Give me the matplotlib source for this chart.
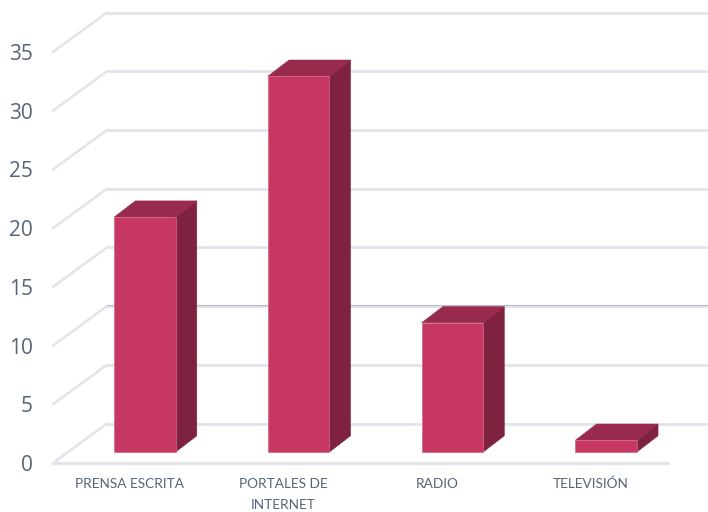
import matplotlib
matplotlib.use('Agg')
import matplotlib.pyplot as plt
from matplotlib.patches import Polygon

categories = ['PRENSA ESCRITA', 'PORTALES DE\nINTERNET', 'RADIO', 'TELEVISIÓN']
values = [20, 32, 11, 1]
y_ticks = [0, 5, 10, 15, 20, 25, 30, 35]

# fake 3d depth, in axis units
depth_x = 0.351
depth_y = 3.36
bar_width = 0.4
bar_start = 0.28
bar_depth = 0.39

grid_color = '#e2e4ea'
text_color = '#566479'

fig = plt.figure(figsize=(7.08, 5.12), dpi=100)
ax = fig.add_axes([53 / 708, 49 / 512, 615 / 708, 411 / 512])
ax.set_xlim(-0.5, 3.5)
ax.set_ylim(0, 35)
for s in ax.spines.values():
    s.set_visible(False)

# walls and floor
for v in y_ticks:
    ax.plot([-0.5, -0.5 + depth_x], [v, v + depth_y], color=grid_color, lw=1.8,
            clip_on=False, zorder=1, solid_capstyle='round')
    ax.plot([-0.5 + depth_x, 3.5 + depth_x], [v + depth_y, v + depth_y], color=grid_color, lw=2,
            clip_on=False, zorder=1)
ax.plot([-0.5 + depth_x, 3.5 + depth_x], [10 + depth_y + 0.08, 10 + depth_y + 0.08], color='#b9bac8', lw=0.8,
        clip_on=False, zorder=1)
ax.plot([-0.5, 3.5], [0, 0], color=grid_color, lw=2.4, clip_on=False, zorder=2, solid_capstyle='round')

# bars
for i, v in enumerate(values):
    x0 = i - bar_width / 2 + bar_start * depth_x
    x1 = x0 + bar_width
    y0 = bar_start * depth_y
    y1 = y0 + v
    dx = bar_depth * depth_x
    dy = 0.41 * depth_y
    ax.add_patch(Polygon([(x1, y0), (x1 + dx, y0 + dy), (x1 + dx, y1 + dy), (x1, y1)], closed=True,
                         facecolor='#7e223f', edgecolor='#7e223f', lw=0.4, clip_on=False, zorder=3))
    ax.add_patch(Polygon([(x0, y1), (x1, y1), (x1 + dx, y1 + dy), (x0 + dx, y1 + dy)], closed=True,
                         facecolor='#982a4e', edgecolor='#982a4e', lw=0.4, clip_on=False, zorder=3))
    ax.add_patch(Polygon([(x0, y0), (x1, y0), (x1, y1), (x0, y1)], closed=True,
                         facecolor='#c63862', edgecolor='#d0668a', lw=0.5, clip_on=False, zorder=4))

ax.set_yticks(y_ticks)
ax.set_yticklabels([str(t) for t in y_ticks], fontfamily='Open Sans', fontsize=15, color=text_color)
ax.set_xticks(range(len(categories)))
ax.set_xticklabels(categories, fontfamily='Lato', fontsize=9.8, color=text_color, linespacing=1.9)
ax.tick_params(axis='y', length=0, pad=14.5)
ax.tick_params(axis='x', length=0, pad=10.5)

fig.savefig('out.png', dpi=100)
